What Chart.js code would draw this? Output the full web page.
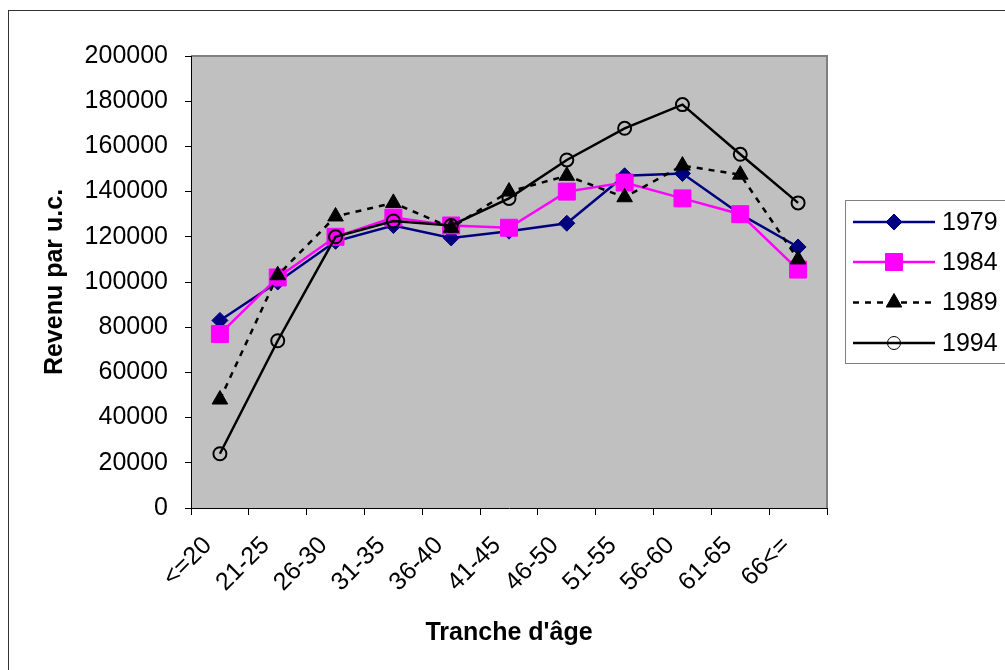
<!DOCTYPE html>
<html>
<head>
<meta charset="utf-8">
<title>Revenu par u.c. selon la tranche d'âge</title>
<script src="https://cdn.jsdelivr.net/npm/chart.js@4/dist/chart.umd.min.js"></script>
<style>
  html, body { margin: 0; padding: 0; background: #fff; }
  #wrap { width: 1005px; height: 670px; }
</style>
</head>
<body>
<div id="wrap"><canvas id="revenuChart" width="1005" height="670"></canvas></div>
<script>
// Age brackets and income per consumption unit for each survey year
const tranches = ['<=20', '21-25', '26-30', '31-35', '36-40', '41-45', '46-50', '51-55', '56-60', '61-65', '66<='];
const rev1979 = [83000, 100000, 118000, 125000, 119500, 122500, 126000, 147000, 148000, 130000, 115500];
const rev1984 = [77000, 102000, 120000, 128500, 125000, 124000, 140000, 144000, 137000, 130000, 105500];
const rev1989 = [48000, 103000, 129000, 135000, 124000, 140000, 147000, 137500, 151500, 147500, 110000];
const rev1994 = [24000, 74000, 120000, 127000, 125000, 137000, 154000, 168000, 178500, 156500, 135000];
const yTicks = [0, 20000, 40000, 60000, 80000, 100000, 120000, 140000, 160000, 180000, 200000];

const FONT = "'Liberation Sans', Arial, sans-serif";

// Gray plot background, plot border and the outer frame
const backgroundPlugin = {
    id: 'plotBackground',
    beforeDraw(chart) {
        const { ctx, chartArea: a } = chart;
        ctx.save();
        ctx.strokeStyle = '#333333';
        ctx.lineWidth = 1;
        ctx.strokeRect(8.5, 10.5, 1020, 680);  // frame runs past the right/bottom edges
        ctx.fillStyle = '#C0C0C0';
        ctx.fillRect(a.left, a.top, a.right - a.left, a.bottom - a.top);
        ctx.strokeStyle = '#808080';
        ctx.lineWidth = 2;
        ctx.beginPath();
        ctx.moveTo(a.left, a.top);
        ctx.lineTo(a.right, a.top);
        ctx.lineTo(a.right, a.bottom);
        ctx.stroke();
        ctx.restore();
    }
};

// Boxed legend with line + marker samples
const boxLegendPlugin = {
    id: 'boxLegend',
    afterDraw(chart) {
        const { ctx } = chart;
        const box = { left: 845, top: 200, bottom: 363 };
        const rowY = [222, 262, 302.5, 343];
        ctx.save();
        ctx.strokeStyle = '#808080';
        ctx.lineWidth = 1;
        ctx.strokeRect(box.left + 0.5, box.top + 0.5, 300, box.bottom - box.top);
        chart.data.datasets.forEach((ds, i) => {
            const y = rowY[i];
            ctx.save();
            ctx.strokeStyle = ds.borderColor;
            ctx.lineWidth = ds.borderWidth;
            ctx.setLineDash(ds.borderDash || []);
            ctx.beginPath();
            ctx.moveTo(853, y);
            ctx.lineTo(935, y);
            ctx.stroke();
            ctx.restore();
            ctx.save();
            ctx.fillStyle = ds.pointBackgroundColor;
            ctx.strokeStyle = ds.pointBorderColor;
            Chart.helpers.drawPoint(ctx, {
                pointStyle: ds.pointStyle,
                radius: ds.legendRadius,
                borderWidth: ds.pointBorderWidth,
                rotation: 0
            }, 894, y);
            ctx.restore();
            ctx.fillStyle = '#000';
            ctx.font = '25px ' + FONT;
            ctx.textBaseline = 'middle';
            ctx.textAlign = 'left';
            ctx.fillText(ds.label, 942, y + 1);
        });
        ctx.restore();
    }
};

const ctx = document.getElementById('revenuChart').getContext('2d');

new Chart(ctx, {
    type: 'line',
    data: {
        labels: tranches,
        datasets: [
            {
                label: '1979', data: rev1979, order: 3,
                borderColor: '#000080', borderWidth: 2.5,
                pointStyle: 'rectRot', pointRadius: 8, legendRadius: 8,
                pointBackgroundColor: '#000080', pointBorderColor: '#000080', pointBorderWidth: 1
            },
            {
                label: '1984', data: rev1984, order: 2,
                borderColor: '#FF00FF', borderWidth: 2.5,
                pointStyle: 'rect', pointRadius: 12, legendRadius: 12,
                pointBackgroundColor: '#FF00FF', pointBorderColor: '#FF00FF', pointBorderWidth: 1
            },
            {
                label: '1989', data: rev1989, order: 1,
                borderColor: '#000000', borderWidth: 2.5, borderDash: [6, 6],
                pointStyle: 'triangle', pointRadius: 9, legendRadius: 9,
                pointBackgroundColor: '#000000', pointBorderColor: '#000000', pointBorderWidth: 1
            },
            {
                label: '1994', data: rev1994, order: 0,
                borderColor: '#000000', borderWidth: 2.5,
                pointStyle: 'circle', pointRadius: 6.5, legendRadius: 6.5,
                pointBackgroundColor: 'rgba(0,0,0,0)', pointBorderColor: '#000000', pointBorderWidth: 2
            }
        ]
    },
    options: {
        responsive: false,
        animation: false,
        devicePixelRatio: 1,
        layout: { padding: { top: 56, right: 178, bottom: 0, left: 0 } },
        elements: { line: { tension: 0 } },
        plugins: {
            legend: { display: false },
            tooltip: { enabled: false }
        },
        scales: {
            x: {
                offset: true,
                grid: { offset: true, drawOnChartArea: false, tickLength: 7, color: '#000', lineWidth: 1 },
                border: { color: '#000', width: 1 },
                ticks: {
                    font: { family: FONT, size: 25 }, color: '#000',
                    minRotation: 45, maxRotation: 45, padding: 16, labelOffset: -12, autoSkip: false
                },
                title: {
                    display: true, text: "Tranche d'âge", color: '#000',
                    font: { family: FONT, size: 25, weight: 'bold' },
                    padding: { top: 0, bottom: 22 }
                },
                afterFit(scale) { scale.height = 162; }
            },
            y: {
                min: 0, max: 200000,
                afterBuildTicks(scale) { scale.ticks = yTicks.map(v => ({ value: v })); },
                grid: { drawOnChartArea: false, tickLength: 6, color: '#000', lineWidth: 1 },
                border: { color: '#000', width: 1 },
                ticks: {
                    font: { family: FONT, size: 25 }, color: '#000', padding: 17,
                    callback: v => String(v)
                },
                title: {
                    display: true, text: 'Revenu par u.c.', color: '#000',
                    font: { family: FONT, size: 25, weight: 'bold' },
                    padding: { top: 40, bottom: 0 }
                },
                afterFit(scale) { scale.width = 191; }
            }
        }
    },
    plugins: [backgroundPlugin, boxLegendPlugin]
});
</script>
</body>
</html>
